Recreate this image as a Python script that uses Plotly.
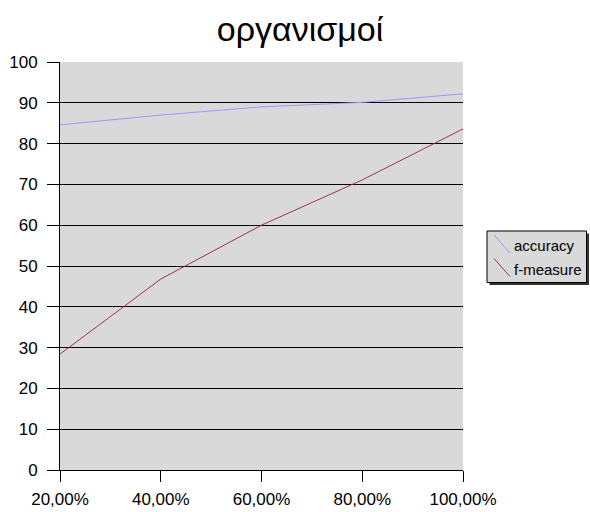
import plotly.graph_objects as go

x_vals = [0.2, 0.4, 0.6, 0.8, 1.0]
x_labels = ["20,00%", "40,00%", "60,00%", "80,00%", "100,00%"]
accuracy = [84.6, 87.0, 89.0, 90.1, 92.2]
f_measure = [28.4, 46.8, 60.0, 71.1, 83.6]
y_ticks = [0, 10, 20, 30, 40, 50, 60, 70, 80, 90, 100]
series_names = ["accuracy", "f-measure"]
series_colors = ["#9999FF", "#993366"]

W, H = 590, 512
L, R, T, B = 60, 127, 62, 42
PW, PH = W - L - R, H - T - B


def px(x):
    return (x - L) / PW


def py(y):
    return (H - B - y) / PH


fig = go.Figure()
for name, vals, col in zip(series_names, [accuracy, f_measure], series_colors):
    fig.add_trace(go.Scatter(x=x_vals, y=vals, mode="lines", name=name,
                             line=dict(color=col, width=1), showlegend=False))

shapes = []
annotations = []
# legend box with shadow
shapes.append(dict(type="rect", xref="paper", yref="paper",
                   x0=px(489.5), x1=px(589), y0=py(285), y1=py(233.5),
                   fillcolor="#333333", line=dict(width=0), layer="above"))
shapes.append(dict(type="rect", xref="paper", yref="paper",
                   x0=px(487), x1=px(586.5), y0=py(282.5), y1=py(231),
                   fillcolor="#D9D9D9", line=dict(color="black", width=1), layer="above"))
for i, (name, col) in enumerate(zip(series_names, series_colors)):
    cy = 246 + 23.5 * i
    shapes.append(dict(type="line", xref="paper", yref="paper",
                       x0=px(494), x1=px(510), y0=py(cy - 11), y1=py(cy + 7),
                       line=dict(color=col, width=1), layer="above"))
    annotations.append(dict(text=name, xref="paper", yref="paper",
                            x=px(512), y=py(cy), xanchor="left", yanchor="middle",
                            showarrow=False, font=dict(size=15, color="black")))

fig.update_layout(
    width=W, height=H,
    margin=dict(l=L, r=R, t=T, b=B),
    paper_bgcolor="white",
    plot_bgcolor="#D9D9D9",
    font=dict(family="Liberation Sans, Arial, sans-serif", size=17, color="black"),
    title=dict(text="οργανισμοί", x=300 / W, xanchor="center", y=1 - 29 / H, yanchor="middle",
               font=dict(size=34, color="black")),
    showlegend=False,
    shapes=shapes,
    annotations=annotations,
    xaxis=dict(range=[0.2, 1.0], tickvals=x_vals, ticktext=x_labels, automargin=False,
               showgrid=False, zeroline=False, showline=True, linecolor="black",
               linewidth=1, ticks="outside", ticklen=11, tickcolor="black",
               ticklabelstandoff=3),
    yaxis=dict(range=[0, 100], tickvals=y_ticks, showgrid=True, gridcolor="black",
               gridwidth=1, zeroline=False, showline=True, linecolor="black",
               linewidth=1, ticks="outside", ticklen=12, tickcolor="black",
               ticklabelstandoff=6, automargin=False),
)

fig.write_html("out.html", config={"displayModeBar": False})

# remove the browser's default body margin so the figure sits at the page origin
with open("out.html", "r", encoding="utf-8") as f:
    html = f.read()
html = html.replace("<body>", '<body style="margin:0;padding:0;">', 1)
with open("out.html", "w", encoding="utf-8") as f:
    f.write(html)
